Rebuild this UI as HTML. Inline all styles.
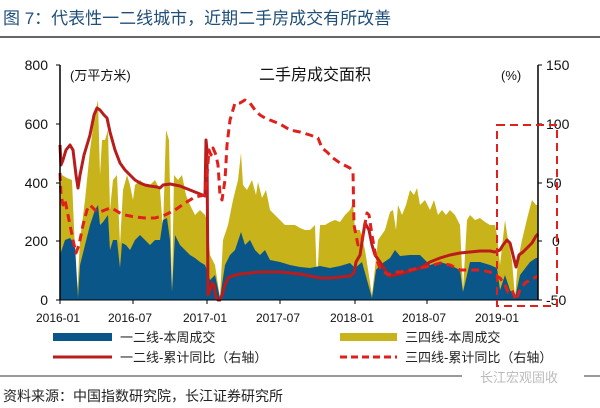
<!DOCTYPE html>
<html><head><meta charset="utf-8"><style>
body{margin:0;background:#fff;}
svg{display:block;font-family:"Liberation Sans","Noto Sans CJK SC",sans-serif;}
</style></head><body>
<svg width="600" height="408" viewBox="0 0 600 408" xmlns="http://www.w3.org/2000/svg">
<text x="3" y="24" font-size="17" fill="#1f4e79">图 7：代表性一二线城市，近期二手房成交有所改善</text>
<line x1="0" y1="37" x2="600" y2="37" stroke="#333" stroke-width="1.5"/>

<!-- yellow area -->
<polygon fill="#c9b31a" points="60,300 60,190 62,175 67,178 72,180 77,298 80,240 85,200 90,150 95,113 98,100 100,175 102,140 105,140 108,130 110,210 113,180 117,175 120,245 123,190 127,175 130,185 133,200 135,185 140,180 145,185 150,185 155,180 160,190 163,230 166,130 169,140 172,290 174,175 178,180 182,175 186,195 190,205 195,215 200,210 205,215 207,220 210,255 215,265 220,298 223,240 228,225 233,200 238,180 241,153 243,185 247,190 252,180 256,195 258,182 262,198 266,190 270,210 275,215 280,220 285,225 290,225 295,225 300,228 305,230 310,230 315,225 317,283 320,225 325,225 330,222 335,220 340,222 345,215 350,210 353,203 355,230 360,230 365,250 372,295 378,240 385,230 390,212 393,210 396,230 398,205 402,215 406,205 410,190 414,195 417,188 420,205 425,200 430,210 434,200 438,215 442,210 446,215 450,210 455,215 460,225 463,290 467,220 470,215 475,220 480,218 485,222 490,225 495,225 497,235 500,265 505,220 508,240 512,260 515,298 518,260 522,240 528,215 532,200 536,205 538,205 538,300"/>
<!-- blue area -->
<polygon fill="#0b5688" points="60,300 60,255 65,240 70,238 75,245 78,298 80,265 85,245 90,225 95,210 98,205 100,225 103,222 108,215 110,250 113,240 117,240 120,268 122,243 126,245 130,250 135,240 140,235 145,240 150,245 155,240 160,240 163,220 167,218 170,240 172,292 175,235 180,245 185,250 190,255 195,258 200,262 205,265 207,270 210,280 215,275 220,298 225,265 230,255 235,250 241,232 245,245 250,240 255,250 260,255 265,250 270,260 280,262 290,265 300,267 310,268 320,266 330,268 340,266 350,263 355,268 362,262 367,280 372,298 376,270 380,265 390,258 395,250 400,256 410,255 420,255 430,265 440,262 450,265 460,270 463,292 470,262 480,262 490,265 497,268 500,290 505,275 510,290 515,298 520,275 530,262 536,258 538,258 538,300"/>

<!-- red solid -->
<polyline fill="none" stroke="#b81c1c" stroke-width="3" stroke-linejoin="round" points="60,145 61,165 63,160 66,150 70,145 73,150 76,175 78,188 80,175 84,155 87,145 90,135 94,115 97,108 100,110 104,115 107,118 110,132 115,150 120,163 125,170 130,175 135,180 140,183 145,185 150,186 157,187 160,188 163,185 170,184 180,186 190,190 200,194 205,196 206,140 207,150 208,295 210,290 212,283 214,285 216,297 218,300 220,300 222,295 225,285 228,278 232,276 240,274 250,273 260,272 270,272 280,272 290,273 300,274 310,276 320,278 330,278 340,277 350,276 354,273 356,262 360,255 365,223 369,230 372,245 375,255 380,262 385,270 390,276 400,274 410,271 420,268 430,262 440,258 450,255 460,253 470,252 480,251 490,251 495,252 500,250 503,245 507,240 510,243 513,255 516,267 519,255 523,252 527,248 532,243 536,236 538,234"/>
<!-- red dashed -->
<polyline fill="none" stroke="#e0201c" stroke-width="3" stroke-dasharray="8,5" stroke-linejoin="round" points="60,173 61,195 63,205 65,200 67,210 70,225 73,240 76,253 79,245 83,225 87,210 90,205 95,210 100,212 105,210 110,208 115,210 120,213 125,215 135,217 145,218 155,218 165,215 175,210 185,203 195,197 205,195 207,175 209,150 211,155 213,148 216,155 218,165 220,195 222,200 225,180 227,145 230,120 235,103 240,103 245,100 250,103 255,110 260,115 265,118 270,120 280,124 290,130 300,132 310,135 318,138 322,148 327,152 333,158 340,163 350,168 353,172 354,225 358,245 362,240 367,213 369,215 372,235 376,258 380,268 388,275 395,272 400,272 410,270 420,268 430,266 440,263 450,265 460,270 470,270 480,270 490,272 500,278 505,285 508,292 512,290 516,300 520,290 525,283 530,280 538,276"/>

<!-- axes -->
<line x1="60" y1="65" x2="60" y2="300" stroke="#000" stroke-width="1.5"/>
<line x1="60" y1="300" x2="538" y2="300" stroke="#000" stroke-width="1"/>
<line x1="538" y1="65" x2="538" y2="300" stroke="#000" stroke-width="1.5"/>
<g stroke="#000" stroke-width="1">
<line x1="56" y1="65" x2="60" y2="65"/><line x1="56" y1="124" x2="60" y2="124"/><line x1="56" y1="183" x2="60" y2="183"/><line x1="56" y1="241" x2="60" y2="241"/><line x1="56" y1="300" x2="60" y2="300"/>
<line x1="538" y1="65" x2="542" y2="65"/><line x1="538" y1="124" x2="542" y2="124"/><line x1="538" y1="183" x2="542" y2="183"/><line x1="538" y1="241" x2="542" y2="241"/><line x1="538" y1="300" x2="542" y2="300"/>
<line x1="60" y1="300" x2="60" y2="304"/><line x1="133" y1="300" x2="133" y2="304"/><line x1="207" y1="300" x2="207" y2="304"/><line x1="280" y1="300" x2="280" y2="304"/><line x1="355" y1="300" x2="355" y2="304"/><line x1="427" y1="300" x2="427" y2="304"/><line x1="497" y1="300" x2="497" y2="304"/>
</g>
<g font-size="14" fill="#111" text-anchor="end">
<text x="48" y="70">800</text><text x="48" y="129">600</text><text x="48" y="188">400</text><text x="48" y="246">200</text><text x="48" y="305">0</text>
</g>
<g font-size="14" fill="#111">
<text x="546" y="70">150</text><text x="546" y="129">100</text><text x="546" y="188">50</text><text x="552" y="246">0</text><text x="546" y="305">-50</text>
</g>
<g font-size="12" fill="#111" text-anchor="middle">
<text x="58" y="322">2016-01</text><text x="130" y="322">2016-07</text><text x="205" y="322">2017-01</text><text x="278" y="322">2017-07</text><text x="352" y="322">2018-01</text><text x="424" y="322">2018-07</text><text x="497" y="322">2019-01</text>
</g>
<text x="70" y="80" font-size="13" fill="#111">(万平方米)</text>
<text x="315" y="80" font-size="16" fill="#111" text-anchor="middle">二手房成交面积</text>
<text x="501" y="80" font-size="13" fill="#111">(%)</text>

<!-- highlight box -->
<rect x="497" y="125" width="60" height="181" fill="none" stroke="#e0201c" stroke-width="2" stroke-dasharray="8,5"/>

<!-- legend -->
<rect x="53" y="333" width="59" height="8" fill="#0b5688"/>
<text x="120" y="342" font-size="13" fill="#222">一二线-本周成交</text>
<rect x="340" y="333" width="57" height="8" fill="#c9b31a"/>
<text x="405" y="342" font-size="13" fill="#222">三四线-本周成交</text>
<line x1="53" y1="357" x2="112" y2="357" stroke="#b81c1c" stroke-width="3"/>
<text x="120" y="362" font-size="13" fill="#222">一二线-累计同比（右轴）</text>
<line x1="340" y1="357" x2="397" y2="357" stroke="#e0201c" stroke-width="3" stroke-dasharray="7,4"/>
<text x="405" y="362" font-size="13" fill="#222">三四线-累计同比（右轴）</text>

<line x1="0" y1="376" x2="600" y2="376" stroke="#333" stroke-width="1"/>
<rect x="462" y="368" width="122" height="16" fill="#fff"/>
<text x="480" y="382" font-size="13" fill="#bbb">长江宏观固收</text>
<text x="3" y="401" font-size="14" fill="#222">资料来源：中国指数研究院，长江证券研究所</text>
</svg>
</body></html>
